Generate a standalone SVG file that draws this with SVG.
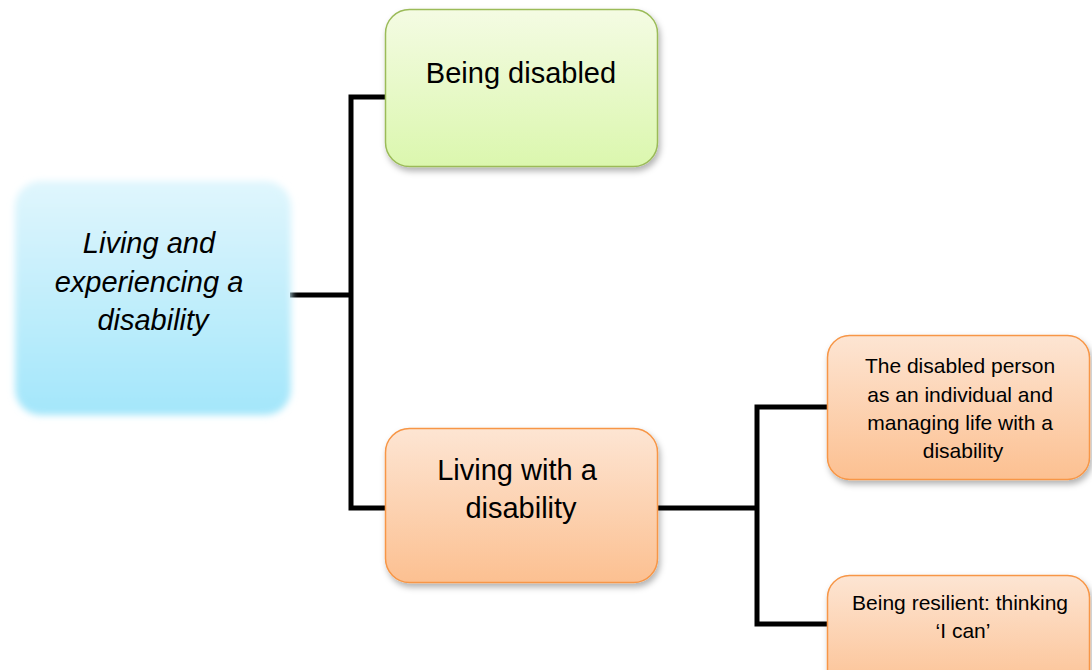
<svg xmlns="http://www.w3.org/2000/svg" width="1092" height="670" viewBox="0 0 1092 670">
  <defs>
    <linearGradient id="gBlue" x1="0" y1="0" x2="0" y2="1">
      <stop offset="0" stop-color="#e0f6fd"/>
      <stop offset="1" stop-color="#a3e6fa"/>
    </linearGradient>
    <linearGradient id="gGreen" x1="0" y1="0" x2="0" y2="1">
      <stop offset="0" stop-color="#f4fbe3"/>
      <stop offset="1" stop-color="#dbf7ae"/>
    </linearGradient>
    <linearGradient id="gOrange" x1="0" y1="0" x2="0" y2="1">
      <stop offset="0" stop-color="#fde5d3"/>
      <stop offset="1" stop-color="#fcc091"/>
    </linearGradient>
    <filter id="soft" x="-10%" y="-10%" width="120%" height="120%">
      <feGaussianBlur stdDeviation="3.5"/>
    </filter>
    <filter id="shadow" x="-10%" y="-10%" width="125%" height="130%">
      <feDropShadow dx="2" dy="4" stdDeviation="3" flood-color="#000" flood-opacity="0.3"/>
    </filter>
    <style>
      .txt { font-family: "Liberation Sans", Arial, sans-serif; fill: #000; text-anchor: middle; }
      .green { fill: url(#gGreen); stroke: #9bbb59; stroke-width: 1.5; filter: url(#shadow); }
      .orange { fill: url(#gOrange); stroke: #f79646; stroke-width: 1.5; filter: url(#shadow); }
      .conn { fill: none; stroke: #000; stroke-width: 5; stroke-linejoin: miter; }
    </style>
  </defs>

  <g id="connectors">
    <line class="conn" x1="290" y1="295" x2="351" y2="295"/>
    <polyline class="conn" points="386,97 351,97 351,508 386,508"/>
    <line class="conn" x1="658" y1="508" x2="757" y2="508"/>
    <polyline class="conn" points="828,407 757,407 757,624 828,624"/>
  </g>

  <g id="node-root">
    <rect x="15" y="181" width="276" height="234" rx="26" fill="url(#gBlue)" filter="url(#soft)"/>
    <text class="txt" font-size="29" font-style="italic">
      <tspan x="153" y="253">Living and</tspan>
      <tspan x="153" y="292">experiencing a</tspan>
      <tspan x="153" y="330">disability</tspan>
    </text>
  </g>

  <g id="node-being-disabled">
    <rect class="green" x="385.5" y="9.5" width="272" height="157" rx="24"/>
    <text class="txt" font-size="29" x="521" y="83">Being disabled</text>
  </g>

  <g id="node-living-with">
    <rect class="orange" x="385.5" y="428.5" width="272" height="154" rx="24"/>
    <text class="txt" font-size="29">
      <tspan x="521" y="480">Living with a</tspan>
      <tspan x="521" y="518">disability</tspan>
    </text>
  </g>

  <g id="node-individual">
    <rect class="orange" x="827.5" y="335.5" width="262" height="144" rx="22"/>
    <text class="txt" font-size="21">
      <tspan x="963" y="373">The disabled person</tspan>
      <tspan x="963" y="402">as an individual and</tspan>
      <tspan x="963" y="430">managing life with a</tspan>
      <tspan x="963" y="458">disability</tspan>
    </text>
  </g>

  <g id="node-resilient">
    <rect class="orange" x="827.5" y="575.5" width="262" height="120" rx="22"/>
    <text class="txt" font-size="21">
      <tspan x="963" y="610">Being resilient: thinking</tspan>
      <tspan x="963" y="638">‘I can’</tspan>
    </text>
  </g>
</svg>
